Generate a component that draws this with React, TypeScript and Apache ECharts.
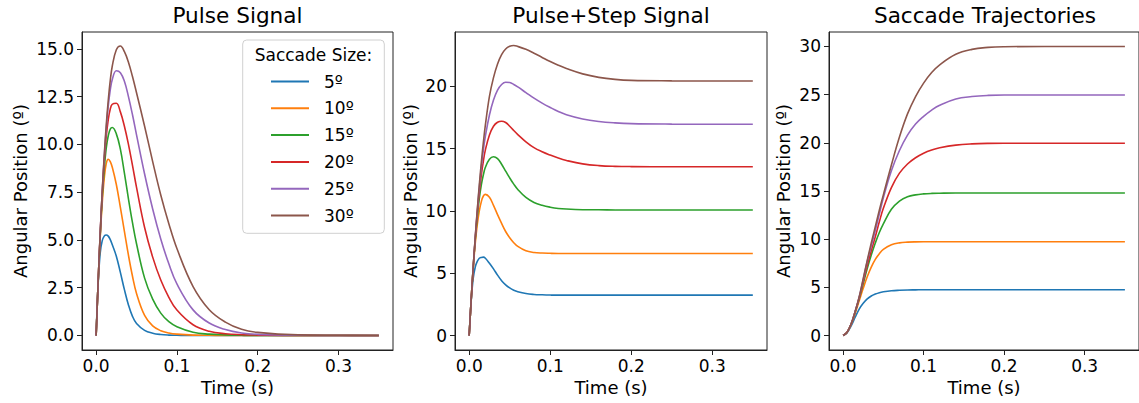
import React, { useEffect, useRef } from "react";
import * as echarts from "echarts";

// ---------- data ----------
const sizes = ["5º", "10º", "15º", "20º", "25º", "30º"];
const titles = ["Pulse Signal", "Pulse+Step Signal", "Saccade Trajectories"];
const xTicks = [0, 0.1, 0.2, 0.3];
const pulseTicks = [0, 2.5, 5, 7.5, 10, 12.5, 15];
const stepTicks = [0, 5, 10, 15, 20];
const trajTicks = [0, 5, 10, 15, 20, 25, 30];

// Pulse signal
const pulseTime = [0, 0.0025, 0.005, 0.0075, 0.01, 0.0125, 0.015, 0.0175, 0.02, 0.025, 0.03, 0.035, 0.04, 0.045, 0.05, 0.06, 0.07, 0.08, 0.09, 0.1, 0.12, 0.14, 0.16, 0.18, 0.2, 0.25, 0.3, 0.35];
const pulse5 = [0, 2.7, 4.3, 4.95, 5.2, 5.26, 5.2, 5.02, 4.75, 4.15, 3.3, 2.4, 1.6, 1.0, 0.63, 0.27, 0.12, 0.05, 0.02, 0.01, 0, 0, 0, 0, 0, 0, 0, 0];
const pulse10 = [0, 2.8, 5.1, 6.9, 8.2, 9.0, 9.22, 9.1, 8.8, 7.9, 6.7, 5.45, 4.2, 3.1, 2.2, 1.05, 0.5, 0.25, 0.13, 0.07, 0.02, 0.01, 0, 0, 0, 0, 0, 0];
const pulse15 = [0, 2.8, 5.2, 7.2, 8.7, 9.8, 10.45, 10.8, 10.88, 10.55, 9.75, 8.5, 7.15, 5.9, 4.8, 3.0, 1.9, 1.17, 0.72, 0.46, 0.17, 0.07, 0.03, 0.01, 0, 0, 0, 0];
const pulse20 = [0, 2.8, 5.3, 7.4, 9.1, 10.4, 11.3, 11.85, 12.1, 12.15, 11.7, 10.95, 10.0, 8.9, 7.75, 5.65, 4.1, 2.9, 2.0, 1.33, 0.56, 0.22, 0.09, 0.04, 0.02, 0, 0, 0];
const pulse25 = [0, 2.8, 5.3, 7.5, 9.3, 10.8, 12.0, 12.85, 13.4, 13.85, 13.75, 13.3, 12.5, 11.55, 10.5, 8.45, 6.62, 5.05, 3.75, 2.7, 1.34, 0.65, 0.31, 0.13, 0.06, 0.01, 0, 0];
const pulse30 = [0, 2.8, 5.3, 7.5, 9.4, 11.0, 12.3, 13.35, 14.1, 14.95, 15.15, 14.85, 14.3, 13.55, 12.7, 10.95, 9.1, 7.35, 5.85, 4.55, 2.56, 1.35, 0.7, 0.32, 0.16, 0.03, 0.01, 0];

// Pulse+Step signal
const stepTime = [0, 0.0025, 0.005, 0.0075, 0.01, 0.0125, 0.015, 0.0175, 0.02, 0.025, 0.03, 0.035, 0.04, 0.045, 0.05, 0.055, 0.06, 0.07, 0.08, 0.09, 0.1, 0.11, 0.12, 0.14, 0.16, 0.18, 0.2, 0.25, 0.3, 0.35];
const step5 = [0, 2.8, 4.6, 5.5, 5.95, 6.2, 6.27, 6.29, 6.2, 5.8, 5.35, 4.85, 4.4, 4.07, 3.82, 3.64, 3.52, 3.37, 3.3, 3.27, 3.25, 3.24, 3.24, 3.24, 3.24, 3.24, 3.24, 3.24, 3.24, 3.24];
const step10 = [0, 2.9, 5.4, 7.4, 8.9, 10.0, 10.75, 11.2, 11.33, 11.1, 10.45, 9.7, 9.0, 8.35, 7.85, 7.45, 7.15, 6.8, 6.67, 6.62, 6.6, 6.59, 6.59, 6.59, 6.59, 6.59, 6.59, 6.59, 6.59, 6.59];
const step15 = [0, 2.9, 5.5, 7.7, 9.5, 11.0, 12.1, 12.9, 13.5, 14.15, 14.35, 14.2, 13.75, 13.2, 12.65, 12.15, 11.72, 11.08, 10.68, 10.45, 10.3, 10.2, 10.15, 10.1, 10.09, 10.08, 10.08, 10.08, 10.08, 10.08];
const step20 = [0, 2.9, 5.5, 7.8, 9.8, 11.5, 12.9, 14.0, 14.9, 16.1, 16.8, 17.12, 17.2, 17.1, 16.8, 16.45, 16.13, 15.55, 15.08, 14.75, 14.48, 14.24, 14.05, 13.78, 13.64, 13.58, 13.56, 13.55, 13.55, 13.55];
const step25 = [0, 2.9, 5.5, 7.9, 10.0, 11.9, 13.5, 14.9, 16.0, 17.7, 18.9, 19.7, 20.15, 20.33, 20.3, 20.15, 19.95, 19.5, 19.05, 18.65, 18.3, 17.98, 17.72, 17.38, 17.18, 17.07, 17.01, 16.97, 16.96, 16.96];
const step30 = [0, 2.9, 5.5, 7.9, 10.1, 12.1, 13.9, 15.5, 16.9, 19.2, 20.7, 21.8, 22.55, 23.0, 23.22, 23.28, 23.2, 22.97, 22.66, 22.32, 21.99, 21.69, 21.43, 21.0, 20.72, 20.56, 20.48, 20.44, 20.43, 20.43];

// Saccade trajectories
const trajTime = [0, 0.005, 0.01, 0.015, 0.02, 0.025, 0.03, 0.035, 0.04, 0.045, 0.05, 0.06, 0.07, 0.08, 0.09, 0.1, 0.11, 0.12, 0.14, 0.16, 0.18, 0.2, 0.25, 0.3, 0.35];
const traj5 = [0, 0.3, 1.0, 1.9, 2.75, 3.35, 3.8, 4.1, 4.3, 4.45, 4.54, 4.65, 4.7, 4.73, 4.74, 4.75, 4.75, 4.75, 4.75, 4.75, 4.75, 4.75, 4.75, 4.75, 4.75];
const traj10 = [0, 0.35, 1.15, 2.3, 3.6, 4.9, 6.1, 7.1, 7.9, 8.5, 8.95, 9.42, 9.62, 9.69, 9.72, 9.73, 9.73, 9.73, 9.73, 9.73, 9.73, 9.73, 9.73, 9.73, 9.73];
const traj15 = [0, 0.35, 1.2, 2.45, 3.85, 5.4, 6.95, 8.35, 9.6, 10.7, 11.6, 13.1, 13.95, 14.4, 14.6, 14.7, 14.75, 14.77, 14.79, 14.79, 14.79, 14.79, 14.79, 14.79, 14.79];
const traj20 = [0, 0.35, 1.2, 2.5, 3.9, 5.6, 7.3, 8.8, 10.25, 11.8, 13.2, 15.35, 16.85, 17.8, 18.45, 18.92, 19.25, 19.48, 19.76, 19.89, 19.94, 19.95, 19.95, 19.95, 19.95];
const traj25 = [0, 0.35, 1.2, 2.5, 4.0, 5.8, 7.7, 9.3, 10.9, 12.6, 14.3, 17.1, 19.2, 20.8, 21.95, 22.75, 23.4, 23.9, 24.55, 24.8, 24.92, 24.96, 24.97, 24.97, 24.97];
const traj30 = [0, 0.35, 1.2, 2.5, 4.0, 5.9, 7.8, 9.6, 11.3, 13.0, 14.6, 17.7, 20.6, 23.0, 24.8, 26.2, 27.3, 28.1, 29.2, 29.7, 29.9, 29.97, 30.0, 30.0, 30.0];

// ---------- presentation ----------
const colors = ["#1f77b4", "#ff7f0e", "#2ca02c", "#d62728", "#9467bd", "#8c564b"];
const FONT = "DejaVu Sans";

const panels = [
  { time: pulseTime, values: [pulse5, pulse10, pulse15, pulse20, pulse25, pulse30], ticks: pulseTicks, yMin: -0.76, yMax: 15.88, dec: 1, left: 82, width: 311, nameGap: 53 },
  { time: stepTime, values: [step5, step10, step15, step20, step25, step30], ticks: stepTicks, yMin: -1.16, yMax: 24.36, dec: 0, left: 455, width: 312, nameGap: 36 },
  { time: trajTime, values: [traj5, traj10, traj15, traj20, traj25, traj30], ticks: trajTicks, yMin: -1.5, yMax: 31.5, dec: 0, left: 829, width: 312, nameGap: 37 },
];
const TOP = 32;
const HEIGHT = 318;

function pairs(ts: number[], vs: number[]) {
  return ts.map((t, i) => [t, vs[i]]);
}

export default function App() {
  const ref = useRef<HTMLDivElement>(null);

  useEffect(() => {
    if (!ref.current) return;
    const chart = echarts.init(ref.current, undefined, { renderer: "svg" });

    const option: any = {
      animation: false,
      backgroundColor: "#fff",
      textStyle: { fontFamily: FONT },
      title: panels.map((p, i) => ({
        text: titles[i],
        left: p.left + p.width / 2,
        top: 4,
        textAlign: "center",
        padding: 0,
        textStyle: { fontFamily: FONT, fontSize: 21.6, fontWeight: "normal", color: "#000" },
      })),
      grid: panels.map((p) => ({
        left: p.left,
        top: TOP,
        width: p.width,
        height: HEIGHT,
        show: true,
        borderColor: "#222",
        borderWidth: 1,
        backgroundColor: "transparent",
        containLabel: false,
      })),
      xAxis: panels.map((p, i) => ({
        type: "value",
        gridIndex: i,
        min: -0.0175,
        max: 0.3675,
        name: "Time (s)",
        nameLocation: "middle",
        nameGap: 28,
        nameTextStyle: { fontFamily: FONT, fontSize: 18, color: "#000" },
        axisLine: { show: true, onZero: false, lineStyle: { color: "#222", width: 1 } },
        axisTick: { show: true, length: 5, customValues: xTicks, lineStyle: { color: "#222", width: 1 } },
        axisLabel: {
          customValues: xTicks,
          formatter: (v: number) => v.toFixed(1),
          fontFamily: FONT,
          fontSize: 17,
          color: "#000",
          margin: 7,
        },
        splitLine: { show: false },
      })),
      yAxis: panels.map((p, i) => ({
        type: "value",
        gridIndex: i,
        min: p.yMin,
        max: p.yMax,
        name: "Angular Position (º)",
        nameLocation: "middle",
        nameGap: p.nameGap,
        nameTextStyle: { fontFamily: FONT, fontSize: 18, color: "#000" },
        axisLine: { show: true, onZero: false, lineStyle: { color: "#222", width: 1 } },
        axisTick: { show: true, length: 5, customValues: p.ticks, lineStyle: { color: "#222", width: 1 } },
        axisLabel: {
          customValues: p.ticks,
          formatter: (v: number) => v.toFixed(p.dec),
          fontFamily: FONT,
          fontSize: 17,
          color: "#000",
          margin: 8,
        },
        splitLine: { show: false },
      })),
      legend: {
        data: sizes,
        orient: "vertical",
        left: 271,
        top: 73,
        padding: 0,
        itemWidth: 38,
        itemHeight: 2,
        itemGap: 9.8,
        icon: "rect",
        z: 20,
        selectedMode: false,
        textStyle: { fontFamily: FONT, fontSize: 17, color: "#000", padding: [0, 0, 0, 10] },
      },
      graphic: [
        {
          type: "rect",
          z: 10,
          shape: { x: 242.7, y: 40, width: 141.6, height: 193.3, r: 4 },
          style: { fill: "rgba(255,255,255,0.85)", stroke: "#d0d0d0", lineWidth: 1 },
        },
        {
          type: "text",
          z: 11,
          x: 313.5,
          y: 55,
          style: {
            text: "Saccade Size:",
            fontFamily: FONT,
            fontSize: 17,
            fill: "#000",
            align: "center",
            verticalAlign: "middle",
          },
        },
      ],
      series: panels.flatMap((p, i) =>
        sizes.map((s, k) => ({
          type: "line",
          name: s,
          xAxisIndex: i,
          yAxisIndex: i,
          data: pairs(p.time, p.values[k]),
          showSymbol: false,
          symbol: "none",
          smooth: 0.4,
          clip: true,
          lineStyle: { width: 1.6, color: colors[k] },
          itemStyle: { color: colors[k] },
          emphasis: { disabled: true },
        }))
      ),
    };

    chart.setOption(option);
    return () => chart.dispose();
  }, []);

  return (
    <div
      ref={ref}
      style={{ position: "fixed", left: 0, top: 0, width: 1139, height: 403, background: "#fff" }}
    />
  );
}
